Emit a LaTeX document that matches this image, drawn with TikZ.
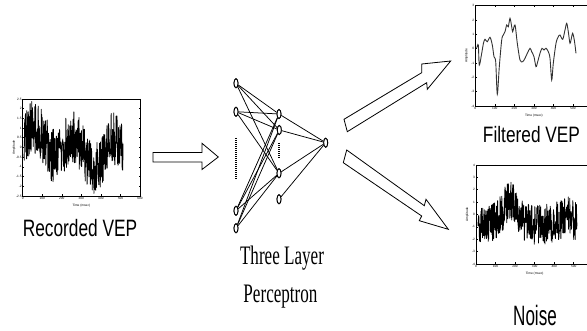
\documentclass[tikz,border=0pt]{standalone}
\usepackage{fontspec}
\setmainfont{Liberation Sans}
\newfontfamily\timesf{Liberation Serif}
\usetikzlibrary{shapes.geometric}
\newcommand\vepframe[6]{%
  \draw[frame] (#1,#2) rectangle (#3,#4);
  \foreach \lab [count=\i from 0] in {#5} {
    \pgfmathsetmacro\yy{#2+\i*(#4-#2)/#6}
    \draw[frame] (#1,\yy) -- ++(1.5,0);
    \draw[frame] (#3,\yy) -- ++(-1.5,0);
    \node[ticklab,anchor=east] at (#1-0.6,\yy) {\lab};
  }
  \foreach \lab [count=\i from 0] in {0,100,200,300,400,500,600} {
    \pgfmathsetmacro\xx{#1+\i*(#3-#1)/6}
    \draw[frame] (\xx,#4) -- ++(0,-1.5);
    \draw[frame] (\xx,#2) -- ++(0,1.5);
    \ifdim\xx pt<583pt
      \node[ticklab,anchor=north] at (\xx,#4+1) {\lab};
    \fi
  }
  \node[ticklab] at ({(#1+#3)/2},#4+10) {Time (msec)};
  \node[ticklab,rotate=90] at (#1-8.7,{(#2+#4)/2}) {Amplitude};
}
\begin{document}
\begin{tikzpicture}[x=1pt,y=-1pt,
  neuron/.style={ellipse,draw,line width=0.9pt,minimum width=4pt,minimum height=9pt,inner sep=0pt,fill=white},
  link/.style={line width=0.75pt},
  frame/.style={line width=0.6pt},
  sig/.style={line width=0.8pt,black,line join=round},
  fsig/.style={line width=0.9pt,black!80},
  blockarrow/.style={draw,line width=0.8pt,fill=white,line join=miter},
  ticklab/.style={font=\fontsize{3.2}{3.5}\selectfont,inner sep=0.3pt},
  biglabel/.style={anchor=base,inner sep=0pt},
  dots/.style={line width=1.6pt,dash pattern=on 1pt off 1pt}]
\useasboundingbox (0,0) rectangle (587,331);
\clip (0,0) rectangle (587,331);

% ---------- Recorded VEP plot ----------
\vepframe{22.7}{99}{140}{196}{2.5,2,1.5,1,0.5,0,-0.5,-1,-1.5,-2,-2.5}{10}
\pgfmathsetmacro\dummy{0}
\pgfmathsetseed{3}
\draw[sig] plot[domain=24:123,samples=420,variable=\t]
  (\t,{148 - 13*sin((\t-24)*9) - 8*sin((\t-24)*3.3+40) + 27*rand});
\node[biglabel,font=\fontsize{23.7}{24}\selectfont] (rec) at (80,237) {\scalebox{0.73}[1]{Recorded VEP}};

% ---------- arrow into network ----------
\draw[blockarrow] (153,152.5) -- (202,152.5) -- (202,143.3) -- (218.3,157) -- (202,169.5) -- (202,162) -- (153,162) -- cycle;

% ---------- network ----------
\node[neuron] (i1) at (236,83.3) {};
\node[neuron] (i2) at (236,111.7) {};
\node[neuron] (i3) at (236,210.7) {};
\node[neuron] (i4) at (236,228.3) {};
\node[neuron] (h1) at (279,114) {};
\node[neuron] (h2) at (279.3,130) {};
\node[neuron] (h3) at (279,173.3) {};
\node[neuron] (h4) at (279,199.3) {};
\node[neuron] (o) at (325.7,142.7) {};
\coordinate (d1a) at (236,138);
\coordinate (d1b) at (236,180);
\coordinate (d2a) at (279,143);
\coordinate (d2b) at (279,158);
\foreach \a in {i1,i2,i3,i4} {
  \foreach \b in {h1,h2,h3} {
    \draw[link] (\a) -- (\b);
  }
}
\foreach \a in {h1,h2,h3,h4} {
  \draw[link] (\a) -- (o);
}
\foreach \n in {i1,i2,i3,i4,h1,h2,h3,h4,o} {
  \node[neuron] at (\n) {};
}
\draw[dots] (d1a) -- (d1b);
\draw[dots] (d2a) -- (d2b);
\node[biglabel,font=\timesf\fontsize{26.7}{27}\selectfont] (tl1) at (282,265) {\scalebox{0.64}[1]{Three Layer}};
\node[biglabel,font=\timesf\fontsize{26.7}{27}\selectfont] (tl2) at (280.5,303) {\scalebox{0.64}[1]{Perceptron}};

% ---------- output arrows ----------
\draw[blockarrow] (344,119.3) -- (421.7,72.7) -- (421.7,64) -- (450.7,61) -- (427.3,89.3) -- (426.7,82.7) -- (347.3,131.7) -- cycle;
\draw[blockarrow] (346.7,150) -- (424.3,205.7) -- (426,199.3) -- (448.3,229.3) -- (419.3,220.7) -- (421.7,216) -- (343.3,162.7) -- cycle;

% ---------- Filtered VEP plot ----------
\vepframe{475.3}{5.7}{592.6}{106}{3,2,1,0,-1,-2,-3,-4}{7}
\draw[fsig] plot[smooth,tension=0.5] coordinates {
(476.7,48.3) (478.3,45) (479.3,65) (481.7,53.3) (483.5,43) (485,39.3) (487.3,41.7) (490,37.3)
(492.3,45) (494,56.7) (495.7,61.7) (497.3,94.3) (499.3,66.7) (501.7,40) (503.3,35)
(505,31.7) (506.7,25) (508.3,26.7) (510,18.3) (511.7,26.7) (512.7,31.7) (515,25)
(517.3,43.3) (520,60) (522.7,61.7) (525,58.3) (527.3,53.3) (530,48.3) (531.7,51.7)
(534,56.7) (536,66.7) (537.7,61.7) (540,53.3) (542,48.3) (544,50) (546,48.3)
(548.3,51.7) (550,58.3) (551.7,80) (553.3,63.3) (556,43.3) (558.3,36.7) (560,35)
(562.7,39.3) (565,30) (566.7,23.3) (568.3,31.7) (570,43.3) (571.7,36.7) (572.7,33.3)
(574.3,40) (576,53.3)};
\node[biglabel,font=\fontsize{22.3}{23}\selectfont] (filt) at (531.5,143) {\scalebox{0.775}[1]{Filtered VEP}};

% ---------- Noise plot ----------
\vepframe{476}{165}{593.3}{264}{4,3,2,1,0,-1,-2,-3,-4}{8}
\pgfmathsetseed{11}
\draw[sig] plot[domain=478:577,samples=400,variable=\t]
  (\t,{226 - 26/(1+((\t-510)/12)^2)/(1+((\t-510)/12)^2) - 10/(1+((\t-566)/8)^2) + 20*rand});
\node[biglabel,font=\fontsize{28}{29}\selectfont] (noise) at (535,326) {\scalebox{0.61}[1]{Noise}};
\end{tikzpicture}
\end{document}
